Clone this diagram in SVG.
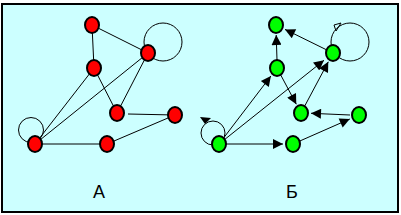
<svg xmlns="http://www.w3.org/2000/svg" width="401" height="215" viewBox="0 0 401 215">
<defs>
<marker id="ah" viewBox="0 0 10 10" refX="10" refY="5" markerWidth="12" markerHeight="10" markerUnits="userSpaceOnUse" orient="auto">
<path d="M0,0 L10,5 L0,10 Z" fill="#000"/>
</marker>
</defs>
<style>
.e{stroke:#000;stroke-width:1;fill:none}
.d{stroke:#000;stroke-width:1;fill:none;marker-end:url(#ah)}
.r{fill:#ff0000;stroke:#000;stroke-width:2}
.g{fill:#00ff00;stroke:#000;stroke-width:2}
.t{font-family:"Liberation Sans",Arial,sans-serif;font-size:18px;fill:#000;text-anchor:middle}
</style>
<rect x="2" y="4" width="396" height="208" fill="#ccffff" stroke="#000" stroke-width="2"/>
<g id="connectors">
<line class="e" x1="92" y1="25" x2="94" y2="68"/>
<line class="e" x1="92" y1="25" x2="148" y2="53"/>
<line class="e" x1="94" y1="68" x2="35" y2="144"/>
<line class="e" x1="148" y1="53" x2="35" y2="144"/>
<line class="e" x1="94" y1="68" x2="117" y2="113"/>
<line class="e" x1="148" y1="53" x2="117" y2="113"/>
<line class="e" x1="128" y1="114" x2="175" y2="115"/>
<line class="e" x1="35" y1="144" x2="107" y2="144"/>
<line class="e" x1="107" y1="144" x2="175" y2="115"/>
<circle class="e" cx="163" cy="42" r="19"/>
<circle class="e" cx="31" cy="130" r="12.5"/>
<line class="d" x1="277" y1="60" x2="276.2" y2="35"/>
<line class="d" x1="333" y1="53" x2="285" y2="29.4"/>
<line class="d" x1="219" y1="144" x2="270.9" y2="76"/>
<line class="d" x1="219" y1="144" x2="324" y2="60.3"/>
<line class="d" x1="301" y1="113" x2="328.3" y2="61.8"/>
<line class="d" x1="277" y1="68" x2="296.3" y2="104.2"/>
<line class="d" x1="350" y1="115" x2="311" y2="113.3"/>
<line class="d" x1="219" y1="144" x2="283" y2="144"/>
<line class="d" x1="293" y1="144" x2="349.8" y2="119"/>
<circle class="e" cx="350" cy="42" r="19"/>
<polygon points="334,25 341,23 336,31" fill="none" stroke="#000" stroke-width="1"/>
<circle class="e" cx="213" cy="133" r="12"/>
<polygon points="200,117 211,118 205,124" fill="#000"/>
</g>
<g id="a1"><ellipse class="r" cx="92" cy="25" rx="7" ry="8"/></g>
<g id="a2"><ellipse class="r" cx="148" cy="53" rx="7" ry="8"/></g>
<g id="a3"><ellipse class="r" cx="94" cy="68" rx="7" ry="8"/></g>
<g id="a4"><ellipse class="r" cx="117" cy="113" rx="7" ry="8"/></g>
<g id="a5"><ellipse class="r" cx="175" cy="115" rx="7" ry="8"/></g>
<g id="a6"><ellipse class="r" cx="35" cy="144" rx="7" ry="8"/></g>
<g id="a7"><ellipse class="r" cx="107" cy="144" rx="7" ry="8"/></g>
<g id="b1"><ellipse class="g" cx="276" cy="25" rx="7" ry="8"/></g>
<g id="b2"><ellipse class="g" cx="333" cy="53" rx="7" ry="8"/></g>
<g id="b3"><ellipse class="g" cx="277" cy="68" rx="7" ry="8"/></g>
<g id="b4"><ellipse class="g" cx="301" cy="113" rx="7" ry="8"/></g>
<g id="b5"><ellipse class="g" cx="359" cy="115" rx="7" ry="8"/></g>
<g id="b6"><ellipse class="g" cx="219" cy="144" rx="7" ry="8"/></g>
<g id="b7"><ellipse class="g" cx="293" cy="144" rx="7" ry="8"/></g>
<text class="t" x="99" y="198">A</text>
<text class="t" x="292" y="198">Б</text>
</svg>
